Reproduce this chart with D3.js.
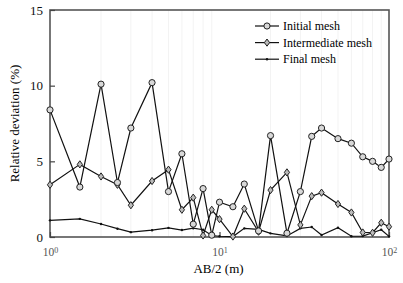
<!DOCTYPE html>
<html><head><meta charset="utf-8">
<script src="https://cdn.jsdelivr.net/npm/d3@7"></script>
<style>body{margin:0;background:#fff}svg{display:block}</style>
</head><body>
<svg id="c" width="403" height="283"></svg>
<script>
const xVals = [1,1.5,2,2.5,3,4,5,6,7,8,9,10,12,14,17,20,25,30,35,40,50,60,70,80,90,100];
const initialMesh = [8.4,3.3,10.1,3.6,7.2,10.2,3.0,5.5,0.85,3.2,0.12,2.3,2.0,3.5,0.4,6.7,0.25,3.0,6.65,7.2,6.5,6.2,5.3,5.0,4.6,5.15];
const intermediateMesh = [3.45,4.8,4.0,3.45,2.1,3.7,4.45,1.8,2.6,0.1,1.8,1.18,0.03,1.87,0.35,3.1,4.27,0.8,2.7,2.93,2.18,1.62,0.3,0.28,0.94,0.68];
const finalMesh = [1.1,1.2,0.86,0.55,0.32,0.45,0.6,0.46,0.58,0.48,0.1,0.05,0.03,0.57,0.5,0.24,0.07,0.57,0.66,0.13,0.61,0.05,0.06,0.28,0.48,0.04];
const seriesNames = ["Initial mesh","Intermediate mesh","Final mesh"];
const yTicks = [0,5,10,15];
const xTicks = [1,10,100];
const xTickExp = ["0","1","2"];
const xTitle = "AB/2 (m)";
const yTitle = "Relative deviation (%)";

const svg = d3.select("#c");
const L=50,R=389,T=10,B=237;
const x = d3.scaleLog().domain([1,100]).range([L,R]);
const y = d3.scaleLinear().domain([0,15]).range([B,T]);
const font = "'Liberation Serif','Times New Roman',serif";

// faint minor grid (scan artifacts)
const minors = [];
[1,10].forEach(d=>{for(let k=2;k<=9;k++) minors.push(d*k);});
svg.append("g").selectAll("line").data(minors).join("line")
  .attr("x1",d=>x(d)).attr("x2",d=>x(d)).attr("y1",T).attr("y2",B)
  .attr("stroke","#f3f3f3").attr("stroke-width",1);

// frame
svg.append("rect").attr("x",L).attr("y",T).attr("width",R-L).attr("height",B-T)
  .attr("fill","none").attr("stroke","#555").attr("stroke-width",1.6);

// y axis
const yAxis = d3.axisLeft(y).tickValues(yTicks).tickSize(-5).tickPadding(7).tickFormat(d3.format("d"));
const gy = svg.append("g").attr("transform",`translate(${L},0)`).call(yAxis);
gy.select(".domain").remove();
gy.selectAll(".tick line").attr("stroke","#444").attr("stroke-width",1.2);
gy.selectAll(".tick text").attr("font-family",font).attr("font-size",13).attr("fill","#111");

// x axis
const xAxis = d3.axisBottom(x).tickValues(xTicks).tickSize(-5).tickPadding(9).tickFormat(()=>"");
const gx = svg.append("g").attr("transform",`translate(0,${B})`).call(xAxis);
gx.select(".domain").remove();
gx.selectAll(".tick line").attr("stroke","#444").attr("stroke-width",1.2);
gx.selectAll(".tick text").each(function(d,i){
  const t = d3.select(this).attr("font-family",font).attr("font-size",11.5).attr("fill","#555").attr("dy","0.9em");
  t.append("tspan").text("10");
  t.append("tspan").attr("dy","-0.45em").attr("font-size",8).text(xTickExp[i]);
});

// titles
svg.append("text").attr("x",(L+R)/2-1).attr("y",273).attr("text-anchor","middle")
  .attr("font-family",font).attr("font-size",13).attr("fill","#000").text(xTitle);
svg.append("text").attr("transform",`translate(19,${(T+B)/2}) rotate(-90)`).attr("text-anchor","middle")
  .attr("font-family",font).attr("font-size",13).attr("fill","#000").text(yTitle);

// series
const line = d3.line().x(d=>x(d[0])).y(d=>y(d[1]));
const all = [initialMesh,intermediateMesh,finalMesh].map(s=>xVals.map((v,i)=>[v,s[i]]));
const lineColor = "#111";
all.forEach(s=>{
  svg.append("path").datum(s).attr("d",line).attr("fill","none")
    .attr("stroke",lineColor).attr("stroke-width",1.2);
});
const diamond = "M0,-3.6L2.6,0L0,3.6L-2.6,0Z";
function marker(g,type,cx,cy){
  if(type===0){
    g.append("circle").attr("cx",cx).attr("cy",cy).attr("r",3.1)
      .attr("fill","#d8d8d8").attr("stroke","#222").attr("stroke-width",1);
  } else if(type===1){
    g.append("path").attr("d",diamond).attr("transform",`translate(${cx},${cy})`)
      .attr("fill","#bbb").attr("stroke","#222").attr("stroke-width",1);
  } else {
    g.append("circle").attr("cx",cx).attr("cy",cy).attr("r",1.2).attr("fill","#111");
  }
}
const mg = svg.append("g");
[2,1,0].forEach(k=>{
  all[k].forEach(d=>marker(mg,k,x(d[0]),y(d[1])));
});

// legend
const lg = svg.append("g");
seriesNames.forEach((n,i)=>{
  const yy = 26 + i*16.6;
  lg.append("line").attr("x1",255).attr("x2",279).attr("y1",yy).attr("y2",yy)
    .attr("stroke",lineColor).attr("stroke-width",1.2);
  marker(lg,i,267,yy);
  lg.append("text").attr("x",283).attr("y",yy).attr("dy","0.35em")
    .attr("font-family",font).attr("font-size",12).attr("fill","#000").text(n);
});
</script>
</body></html>
